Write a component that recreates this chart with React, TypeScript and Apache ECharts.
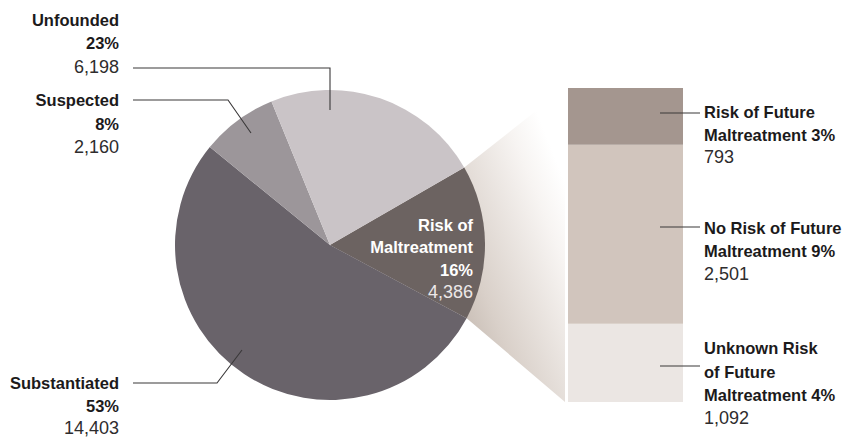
import React, { useEffect, useRef } from "react";
import * as echarts from "echarts";

// Investigation outcomes (pie)
const outcomeNames = ["Risk of Maltreatment", "Substantiated", "Suspected", "Unfounded"];
const outcomeCounts = [4386, 14403, 2160, 6198];
const outcomePercents = ["16%", "53%", "8%", "23%"];
const outcomeColors = ["#6c6361", "#69636a", "#9c969a", "#cac4c7"];

// Breakdown of "Risk of Maltreatment" (stacked bar, bottom to top)
const riskNames = [
  "Unknown Risk of Future Maltreatment",
  "No Risk of Future Maltreatment",
  "Risk of Future Maltreatment",
];
const riskCounts = [1092, 2501, 793];
const riskPercents = ["4%", "9%", "3%"];
const riskColors = ["#ebe6e3", "#d1c5bd", "#a4968f"];

const FONT = '"Liberation Sans", Arial, sans-serif';
const BOLD = `bold 16.5px ${FONT}`;
const REG = `18px ${FONT}`;
const INK = "#1c1a1b";
const NUM = "#2e2c2d";

const PIE_CENTER = [330, 245];
const PIE_RADIUS = 155;
const START_ANGLE = 30;
const BAR_GRID = { left: 568, top: 88, width: 115, height: 314 };

const fmt = (n: number) => n.toLocaleString("en-US");

type Line = { t: string; bold?: boolean; fill?: string };

function textBlock(x: number, ys: number[], align: "left" | "right", lines: Line[]) {
  return lines.map((l, i) => ({
    type: "text",
    silent: true,
    z: 10,
    style: {
      x,
      y: ys[i],
      text: l.t,
      align,
      verticalAlign: "middle",
      font: l.bold === false ? REG : BOLD,
      fill: l.fill || (l.bold === false ? NUM : INK),
    },
  }));
}

function leader(points: number[][]) {
  return {
    type: "polyline",
    silent: true,
    z: 10,
    shape: { points },
    style: { stroke: "#3a3839", lineWidth: 1.1, fill: "none" },
  };
}

export default function App() {
  const ref = useRef<HTMLDivElement>(null);

  useEffect(() => {
    if (!ref.current) return;
    const chart = echarts.init(ref.current, null, { renderer: "svg" });

    const total = outcomeCounts.reduce((a, b) => a + b, 0);
    const riskTotal = riskCounts.reduce((a, b) => a + b, 0);

    // wedge linking the "Risk of Maltreatment" slice to the breakdown bar
    const sweep = (outcomeCounts[0] / total) * 360;
    const toXY = (deg: number) => {
      const a = (deg * Math.PI) / 180;
      return [PIE_CENTER[0] + PIE_RADIUS * Math.cos(a), PIE_CENTER[1] - PIE_RADIUS * Math.sin(a)];
    };
    const p1 = toXY(START_ANGLE);
    const p2 = toXY(START_ANGLE - sweep);
    const barLeft = BAR_GRID.left - 3;
    const wedge = {
      type: "polygon",
      silent: true,
      z: -1,
      shape: {
        points: [
          PIE_CENTER,
          p1,
          [barLeft, BAR_GRID.top],
          [barLeft, BAR_GRID.top + BAR_GRID.height],
          p2,
        ],
      },
      style: {
        fill: new echarts.graphic.LinearGradient(0.25, 0.7, 1, 0.3, [
          { offset: 0, color: "#a89a8f" },
          { offset: 0.45, color: "#d9d0c9" },
          { offset: 0.85, color: "#f7f4f2" },
          { offset: 1, color: "#ffffff" },
        ]),
      },
    };

    const graphics: any[] = [
      wedge,
      // Unfounded
      ...textBlock(119, [20, 43, 67], "right", [
        { t: outcomeNames[3] },
        { t: outcomePercents[3] },
        { t: fmt(outcomeCounts[3]), bold: false },
      ]),
      leader([[133, 68], [330, 68], [330, 110]]),
      // Suspected
      ...textBlock(119, [100, 124, 147], "right", [
        { t: outcomeNames[2] },
        { t: outcomePercents[2] },
        { t: fmt(outcomeCounts[2]), bold: false },
      ]),
      leader([[133, 100], [228, 100], [251, 133]]),
      // Substantiated
      ...textBlock(119, [383, 406, 428], "right", [
        { t: outcomeNames[1] },
        { t: outcomePercents[1] },
        { t: fmt(outcomeCounts[1]), bold: false },
      ]),
      leader([[133, 383], [217, 383], [242, 350]]),
      // Risk of Maltreatment (inside slice)
      ...textBlock(473, [225, 247, 270, 292], "right", [
        { t: "Risk of", fill: "#ffffff" },
        { t: "Maltreatment", fill: "#ffffff" },
        { t: outcomePercents[0], fill: "#ffffff" },
        { t: fmt(outcomeCounts[0]), bold: false, fill: "#ece8e8" },
      ]),
      // bar breakdown labels
      ...textBlock(704, [112, 135, 157], "left", [
        { t: "Risk of Future" },
        { t: `Maltreatment ${riskPercents[2]}` },
        { t: fmt(riskCounts[2]), bold: false },
      ]),
      leader([[660, 113], [700, 113]]),
      ...textBlock(704, [228, 251, 274], "left", [
        { t: "No Risk of Future" },
        { t: `Maltreatment ${riskPercents[1]}` },
        { t: fmt(riskCounts[1]), bold: false },
      ]),
      leader([[660, 227], [700, 227]]),
      ...textBlock(704, [348, 372, 395, 418], "left", [
        { t: "Unknown Risk" },
        { t: "of Future" },
        { t: `Maltreatment ${riskPercents[0]}` },
        { t: fmt(riskCounts[0]), bold: false },
      ]),
      leader([[660, 366], [700, 366]]),
    ];

    chart.setOption({
      animation: false,
      backgroundColor: "#ffffff",
      grid: { ...BAR_GRID, containLabel: false },
      xAxis: { type: "category", data: ["Risk of Maltreatment"], show: false },
      yAxis: { type: "value", min: 0, max: riskTotal, show: false },
      graphic: graphics,
      series: [
        {
          type: "pie",
          center: PIE_CENTER,
          radius: PIE_RADIUS,
          startAngle: START_ANGLE,
          clockwise: true,
          silent: true,
          z: 2,
          label: { show: false },
          labelLine: { show: false },
          itemStyle: { borderWidth: 0 },
          data: outcomeNames.map((name, i) => ({
            name,
            value: outcomeCounts[i],
            itemStyle: { color: outcomeColors[i] },
          })),
        },
        ...riskNames.map((name, i) => ({
          type: "bar",
          name,
          stack: "risk",
          silent: true,
          barWidth: "100%",
          data: [riskCounts[i]],
          itemStyle: { color: riskColors[i] },
        })),
      ],
    });

    return () => chart.dispose();
  }, []);

  return (
    <div
      ref={ref}
      style={{ position: "absolute", left: 0, top: 0, width: 843, height: 437, background: "#ffffff" }}
    />
  );
}
